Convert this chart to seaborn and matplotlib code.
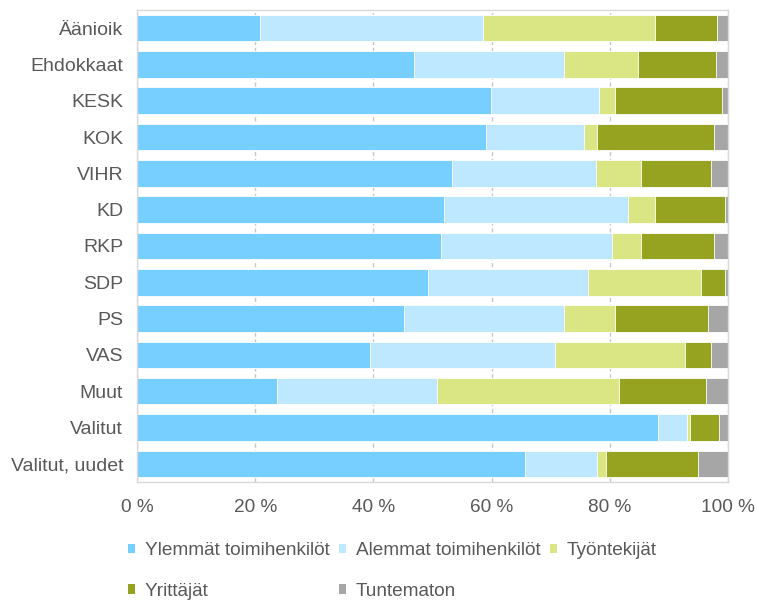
import matplotlib
matplotlib.use("Agg")
import matplotlib.pyplot as plt
import seaborn as sns
import numpy as np
import pandas as pd
from matplotlib.patches import Patch
from matplotlib.ticker import FuncFormatter

categories = ["Äänioik", "Ehdokkaat", "KESK", "KOK", "VIHR", "KD", "RKP",
              "SDP", "PS", "VAS", "Muut", "Valitut", "Valitut, uudet"]

ylemmat = [20.8, 46.8, 59.9, 59.1, 53.3, 52.0, 51.5, 49.3, 45.2, 39.5, 23.7, 88.1, 65.6]
alemmat = [37.7, 25.4, 18.2, 16.6, 24.3, 31.0, 28.8, 27.0, 27.0, 31.3, 27.0, 5.0, 12.2]
tyontekijat = [29.1, 12.6, 2.7, 2.1, 7.6, 4.6, 4.9, 19.2, 8.6, 21.9, 30.9, 0.5, 1.6]
yrittajat = [10.6, 13.1, 18.2, 19.9, 11.9, 11.9, 12.5, 4.0, 15.8, 4.4, 14.7, 4.9, 15.5]
tuntematon = [1.8, 2.1, 1.0, 2.3, 2.9, 0.5, 2.3, 0.5, 3.4, 2.9, 3.7, 1.5, 5.1]

series_names = ["Ylemmät toimihenkilöt", "Alemmat toimihenkilöt", "Työntekijät",
                "Yrittäjät", "Tuntematon"]
colors = ["#77CFFF", "#BDE8FF", "#D9E683", "#95A320", "#A6A6A6"]

df = pd.DataFrame({
    "cat": categories,
    series_names[0]: ylemmat,
    series_names[1]: alemmat,
    series_names[2]: tyontekijat,
    series_names[3]: yrittajat,
    series_names[4]: tuntematon,
})

# normalise to 100 % and build cumulative sums
vals = df[series_names].to_numpy(dtype=float)
vals = vals / vals.sum(axis=1, keepdims=True) * 100
cum = np.cumsum(vals, axis=1)

sns.set_style("white")
plt.rcParams["font.family"] = ["Liberation Sans", "DejaVu Sans"]
text_color = "#595959"

fig = plt.figure(figsize=(7.57, 6.03), dpi=100)
ax = fig.add_axes([0.181, 0.2007, 0.7807, 0.7828])

# overlay cumulative bars, longest first
for i in reversed(range(len(series_names))):
    sns.barplot(x=cum[:, i], y=df["cat"], orient="h", color=colors[i],
                saturation=1, width=0.73, edgecolor="white", linewidth=0.6,
                ax=ax, zorder=2)

ax.set_xlim(0, 100)
ax.set_xticks([0, 20, 40, 60, 80, 100])
ax.xaxis.set_major_formatter(FuncFormatter(lambda v, p: f"{v:.0f} %"))
ax.set_xlabel("")
ax.set_ylabel("")

ax.grid(axis="x", color="#C8C8C8", linestyle=(0, (3, 2)), linewidth=1, zorder=0)
ax.grid(axis="y", visible=False)
ax.set_axisbelow(True)
for s in ax.spines.values():
    s.set_color("#D9D9D9")
    s.set_linewidth(1)

ax.tick_params(axis="x", length=0, pad=12, labelsize=13.7, labelcolor=text_color)
ax.tick_params(axis="y", length=0, pad=10, labelsize=14, labelcolor=text_color)

# legend order arranged so columns read row-wise like the original
order = [0, 3, 1, 4, 2]
handles = [Patch(facecolor=colors[i], edgecolor="none") for i in order]
labels = [series_names[i] for i in order]
fig.legend(handles, labels, loc="upper left", bbox_to_anchor=(0.169, 0.101),
           ncol=3, frameon=False, fontsize=13.7, labelcolor=text_color,
           handlelength=0.38, handleheight=0.38, handletextpad=0.5,
           columnspacing=0.5, labelspacing=1.25, borderaxespad=0, borderpad=0)

fig.savefig("out.png", dpi=100)
